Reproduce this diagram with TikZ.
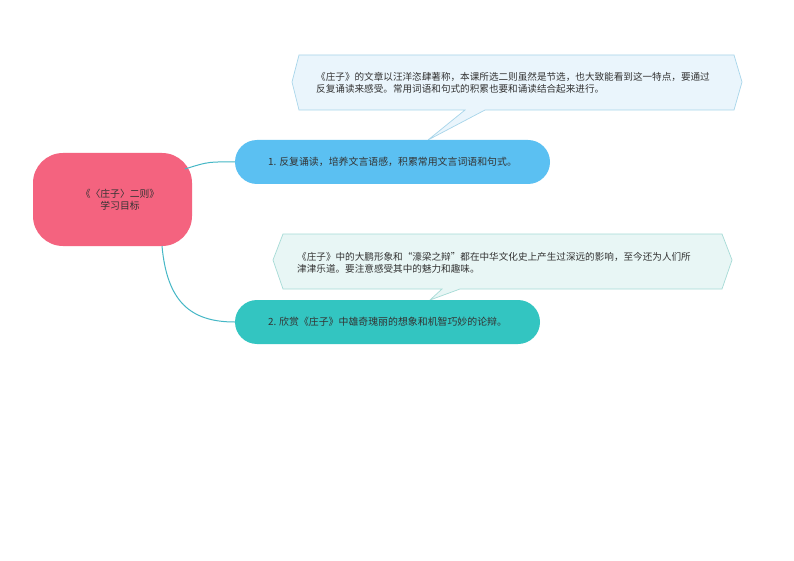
\documentclass[tikz,border=0pt]{standalone}
\usepackage{fontspec}
\setmainfont{Noto Sans CJK SC}
\usepackage{tikz}
\usetikzlibrary{calc}
\usetikzlibrary{positioning}

\definecolor{rootpink}{HTML}{F4637F}
\definecolor{goalblue}{HTML}{5BC0F2}
\definecolor{goalteal}{HTML}{33C5C1}
\definecolor{notebluefill}{HTML}{EAF5FC}
\definecolor{noteblueline}{HTML}{A7D5EA}
\definecolor{notetealfill}{HTML}{E8F6F5}
\definecolor{notetealline}{HTML}{A6DBD6}
\definecolor{linkteal}{HTML}{45B7C6}
\definecolor{inktext}{HTML}{333333}

\tikzset{
  rootbox/.style={fill=rootpink, rounded corners=30pt, minimum width=159pt, minimum height=93pt, inner sep=0pt},
  goalbox/.style={rounded corners=22pt, minimum height=44pt, inner sep=0pt, text=inktext, font=\fontsize{9.9}{12}\selectfont},
  notetext/.style={anchor=west, align=left, inner sep=0pt, text=inktext, font=\fontsize{9.6}{12}\selectfont},
  link/.style={draw=linkteal, line width=1pt},
}

\begin{document}
\begin{tikzpicture}[x=1pt, y=-1pt]
  \useasboundingbox[fill=white] (0,0) rectangle (794,561);

  % node[Optionen] (A) {};
  \draw[fill=notebluefill, draw=noteblueline, line width=0.7pt]
    (299,55) -- (734,55) -- (742,82) -- (734,110) -- (485,110) -- (428,140)
    -- (465,110) -- (299,110) -- (292,82) -- cycle;
  \draw[fill=notetealfill, draw=notetealline, line width=0.7pt]
    (283,234) -- (722,234) -- (732,260) -- (722,289) -- (460,289) -- (430,300)
    -- (442,289) -- (283,289) -- (273,260) -- cycle;

  \node[notetext] (note1) at (316,83)
    {《庄子》的文章以汪洋恣肆著称，本课所选二则虽然是节选，也大致能看到这一特点，要通过\\反复诵读来感受。常用词语和句式的积累也要和诵读结合起来进行。};
  \node[notetext] (note2) at (297,263)
    {《庄子》中的大鹏形象和“濠梁之辩”都在中华文化史上产生过深远的影响，至今还为人们所\\津津乐道。要注意感受其中的魅力和趣味。};

  \node[rootbox] (root) at (112.5,199.5) {};
  \node[align=center, inner sep=0pt, text=inktext, font=\fontsize{9.8}{12}\selectfont] (rootlabel) at (120,200)
    {《〈庄子〉二则》\\学习目标};

  \node[goalbox, fill=goalblue, minimum width=315pt] (goal1) at (392.5,162)
    {1. 反复诵读，培养文言语感，积累常用文言词语和句式。};
  \node[goalbox, fill=goalteal, minimum width=305pt] (goal2) at (387.5,322)
    {2. 欣赏《庄子》中雄奇瑰丽的想象和机智巧妙的论辩。};

  \coordinate (out1) at (185,169);
  \coordinate (out2) at (162,246);
  \draw[link] (out1) .. controls +(25,-8) and +(-25,0) .. (goal1.west);
  \draw[link] (out2) .. controls +(5,55) and +(-45,0) .. (goal2.west);
\end{tikzpicture}
\end{document}
